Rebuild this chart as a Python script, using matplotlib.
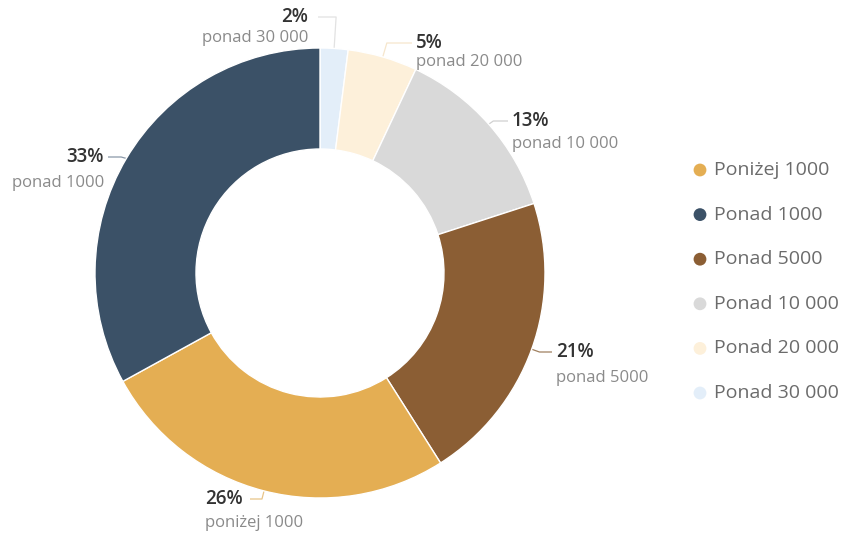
import matplotlib.pyplot as plt
import numpy as np

# slices in drawing order, clockwise from 12 o'clock
pcts = [2, 5, 13, 21, 26, 33]
names = ['ponad 30 000', 'ponad 20 000', 'ponad 10 000', 'ponad 5000', 'poniżej 1000', 'ponad 1000']
colors = ['#E3EEF9', '#FDF0DA', '#D9D9D9', '#8B5E34', '#E4AE53', '#3B5167']

# legend order
legend_names = ['Poniżej 1000', 'Ponad 1000', 'Ponad 5000', 'Ponad 10 000', 'Ponad 20 000', 'Ponad 30 000']
legend_colors = ['#E4AE53', '#3B5167', '#8B5E34', '#D9D9D9', '#FDF0DA', '#E3EEF9']

plt.rcParams['font.family'] = ['Open Sans', 'DejaVu Sans']

W, H = 846, 534
fig = plt.figure(figsize=(W / 100, H / 100), dpi=100)
ax = fig.add_axes([0, 0, 1, 1])
ax.axis('off')

cx, cy = 320, H - 273
R = 225
wedges, _ = ax.pie(pcts, colors=colors, startangle=90, counterclock=False,
                   radius=R, center=(cx, cy),
                   wedgeprops=dict(width=R - 124, edgecolor='white', linewidth=1))
ax.set_xlim(0, W)
ax.set_ylim(0, H)
ax.set_aspect('equal')

# label layout (pixels from top): text x, pct line y, alignment, line end x, sub offset
layout = [
    (308, 17, 'right', 318, 21),
    (416, 43, 'left', 412, 19),
    (512, 121, 'left', 508, 23),
    (556, 352, 'left', 552, 26),
    (205, 499, 'left', 250, 24),
    (104, 157, 'right', 108, 26),
]
line_colors = ['#E2E2E2', '#F6E6CC', '#D0D0D0', '#A08060', '#E8C488', '#8A98A8']

cum = np.cumsum([0] + pcts[:-1])
for i, p in enumerate(pcts):
    mid = np.radians(90 - (cum[i] + p / 2) * 3.6)
    ux, uy = np.cos(mid), np.sin(mid)
    tx, ty, ha, lx, dy = layout[i]
    ly = H - ty
    x0, y0 = cx + R * ux, cy + R * uy
    # elbow where radial line reaches label height (at least a small step out)
    t = (ly - cy) / uy if abs(uy) > 1e-6 else R + 8
    t = max(t, R + 6)
    ex = cx + t * ux
    ax.plot([x0, ex, lx], [y0, ly, ly], color=line_colors[i],
            lw=0.9, solid_capstyle='butt', zorder=0)
    ax.text(tx, ly, f'{p}%', ha=ha, va='center', fontsize=13.5, fontweight='semibold', color='#333333')
    ax.text(tx, ly - dy, names[i], ha=ha, va='center', fontsize=12, color='#8a8a8a')

# legend
for j, (n, c) in enumerate(zip(legend_names, legend_colors)):
    y = H - (170 + j * 44.6)
    ax.scatter([700], [y], s=85, color=c, edgecolors='none')
    ax.text(714, y, n, ha='left', va='center', fontsize=14, color='#6b6b6b', fontweight='medium')

fig.savefig('out.png', dpi=100)
